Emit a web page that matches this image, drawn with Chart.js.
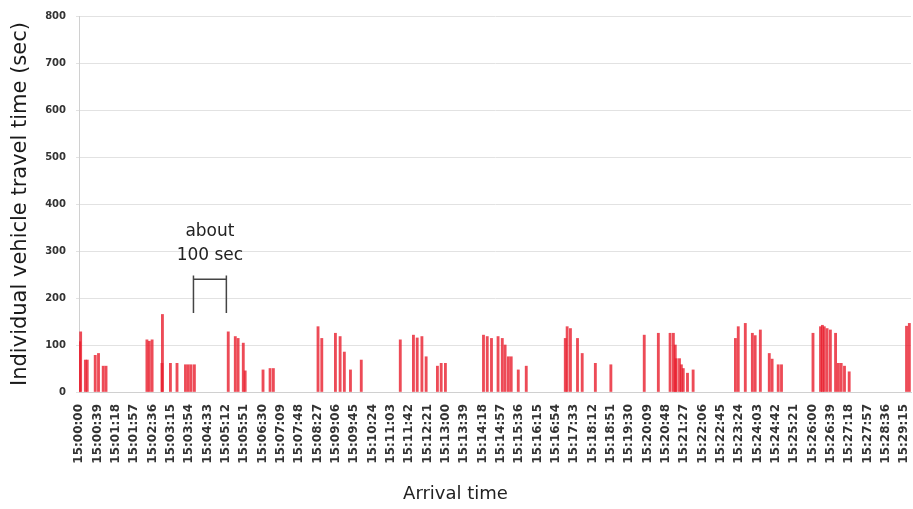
<!DOCTYPE html>
<html>
<head>
<meta charset="utf-8">
<script src="https://cdn.jsdelivr.net/npm/chart.js@4/dist/chart.umd.min.js"></script>
<style>
  html, body { margin: 0; padding: 0; background: #fff; }
  #wrap { width: 913px; height: 509px; }
</style>
</head>
<body>
<div id="wrap"><canvas id="c" width="913" height="509"></canvas></div>
<script>
// Tick labels shown on the x axis (every 39 s)
const tickLabels = ['15:00:00','15:00:39','15:01:18','15:01:57','15:02:36','15:03:15','15:03:54','15:04:33',
  '15:05:12','15:05:51','15:06:30','15:07:09','15:07:48','15:08:27','15:09:06','15:09:45','15:10:24',
  '15:11:03','15:11:42','15:12:21','15:13:00','15:13:39','15:14:18','15:14:57','15:15:36','15:16:15',
  '15:16:54','15:17:33','15:18:12','15:18:51','15:19:30','15:20:09','15:20:48','15:21:27','15:22:06',
  '15:22:45','15:23:24','15:24:03','15:24:42','15:25:21','15:26:00','15:26:39','15:27:18','15:27:57',
  '15:28:36','15:29:15'];
const yTicks = [0,100,200,300,400,500,600,700,800];

// Arrival time (seconds after 15:00:00) and individual travel time (sec)
const arrivalSec = [1,3,13,17,34,41,51,57,
  144,149,155,176,177,194,208,226,232,238,245,
  317,332,338,349,353,
  391,406,413,
  508,516,545,555,564,577,600,
  683,711,719,729,738,762,770,779,
  860,868,877,891,900,906,913,919,934,951,
  1034,1038,1045,1060,1070,1098,1131,
  1202,1232,1257,1264,1268,1270,1277,1281,1285,1294,1306,
  1396,1402,1417,1432,1438,1449,1468,1474,1487,1494,
  1561,1577,1581,1585,1591,1598,1609,1615,1621,1628,1638,
  1760,1766];
const travelTime = [107,128,68,68,78,82,55,55,
  111,108,111,61,165,61,61,58,58,58,58,
  128,118,114,104,45,
  47,50,50,
  139,114,125,118,85,47,68,
  111,121,115,118,75,55,61,61,
  121,118,114,118,114,100,75,75,47,55,
  114,139,135,114,82,61,58,
  121,125,125,125,100,71,71,58,50,40,47,
  114,139,146,125,120,132,82,70,58,58,
  125,139,142,139,135,132,125,61,61,55,43,
  140,146];

// Annotation ("about 100 sec") in data units
const noteSpan = [243, 313];      // seconds
const noteLines = ['about', '100 sec'];

const nCats = 1770;
function fmt(s) {
  const m = Math.floor(s / 60), ss = s % 60;
  return '15:' + String(m).padStart(2,'0') + ':' + String(ss).padStart(2,'0');
}
const categories = [];
for (let i = 0; i < nCats; i++) categories.push(fmt(i));
const values = new Array(nCats).fill(null);
arrivalSec.forEach((s, i) => { values[s] = travelTime[i]; });
const tickSet = new Set(tickLabels);

const FONT = "'DejaVu Sans', Verdana, sans-serif";

const notePlugin = {
  id: 'note',
  afterDatasetsDraw(chart) {
    const {ctx, scales: {x, y}} = chart;
    const x1 = x.getPixelForValue(noteSpan[0]);
    const x2 = x.getPixelForValue(noteSpan[1]);
    const yTop = y.getPixelForValue(248), yBot = y.getPixelForValue(168), yMid = y.getPixelForValue(240);
    ctx.save();
    ctx.strokeStyle = '#444';
    ctx.lineWidth = 1.5;
    ctx.beginPath();
    ctx.moveTo(x1, yTop); ctx.lineTo(x1, yBot);
    ctx.moveTo(x2, yTop); ctx.lineTo(x2, yBot);
    ctx.moveTo(x1, yMid); ctx.lineTo(x2, yMid);
    ctx.stroke();
    ctx.fillStyle = '#222';
    ctx.font = '17px ' + FONT;
    ctx.textAlign = 'center';
    ctx.textBaseline = 'middle';
    const cx = (x1 + x2) / 2;
    ctx.fillText(noteLines[0], cx, y.getPixelForValue(342));
    ctx.fillText(noteLines[1], cx, y.getPixelForValue(291));
    ctx.restore();
  }
};

new Chart(document.getElementById('c'), {
  type: 'bar',
  data: {
    labels: categories,
    datasets: [{
      data: values,
      backgroundColor: 'rgba(232,30,45,0.8)',
      borderWidth: 0,
      barThickness: 2.2,
      grouped: false
    }]
  },
  options: {
    responsive: false,
    animation: false,
    events: [],
    layout: { padding: { top: 13, right: 2, left: 0, bottom: 0 } },
    plugins: {
      legend: { display: false },
      tooltip: { enabled: false },
      title: {
        display: true,
        position: 'bottom',
        text: 'Arrival time',
        color: '#222',
        font: { family: FONT, size: 18, weight: 'normal' },
        padding: { top: 12, bottom: 3.4 }
      }
    },
    scales: {
      x: {
        offset: true,
        grid: { display: false },
        border: { display: true, color: '#d0d0d0' },
        ticks: {
          autoSkip: false,
          maxRotation: 90,
          minRotation: 90,
          padding: 4,
          color: '#333',
          font: { family: FONT, size: 12, weight: 'bold' },
          callback: function(v) { const l = this.getLabelForValue(v); return tickSet.has(l) ? l : ''; }
        },
        afterFit(scale) { scale.height = 80; scale.paddingLeft = 0; scale.paddingRight = 0; }
      },
      y: {
        min: 0, max: 800,
        afterBuildTicks(scale) { scale.ticks = yTicks.map(v => ({ value: v })); },
        grid: { color: '#e2e2e2', tickLength: 3 },
        border: { display: true, color: '#d0d0d0' },
        ticks: {
          padding: 10,
          color: '#333',
          font: { family: FONT, size: 10, weight: 'bold' }
        },
        title: {
          display: true,
          text: 'Individual vehicle travel time (sec)',
          color: '#1a1a1a',
          font: { family: FONT, size: 21 },
          padding: { top: 8, bottom: 0 }
        },
        afterFit(scale) { scale.width = 79; }
      }
    }
  },
  plugins: [notePlugin]
});
</script>
</body>
</html>
